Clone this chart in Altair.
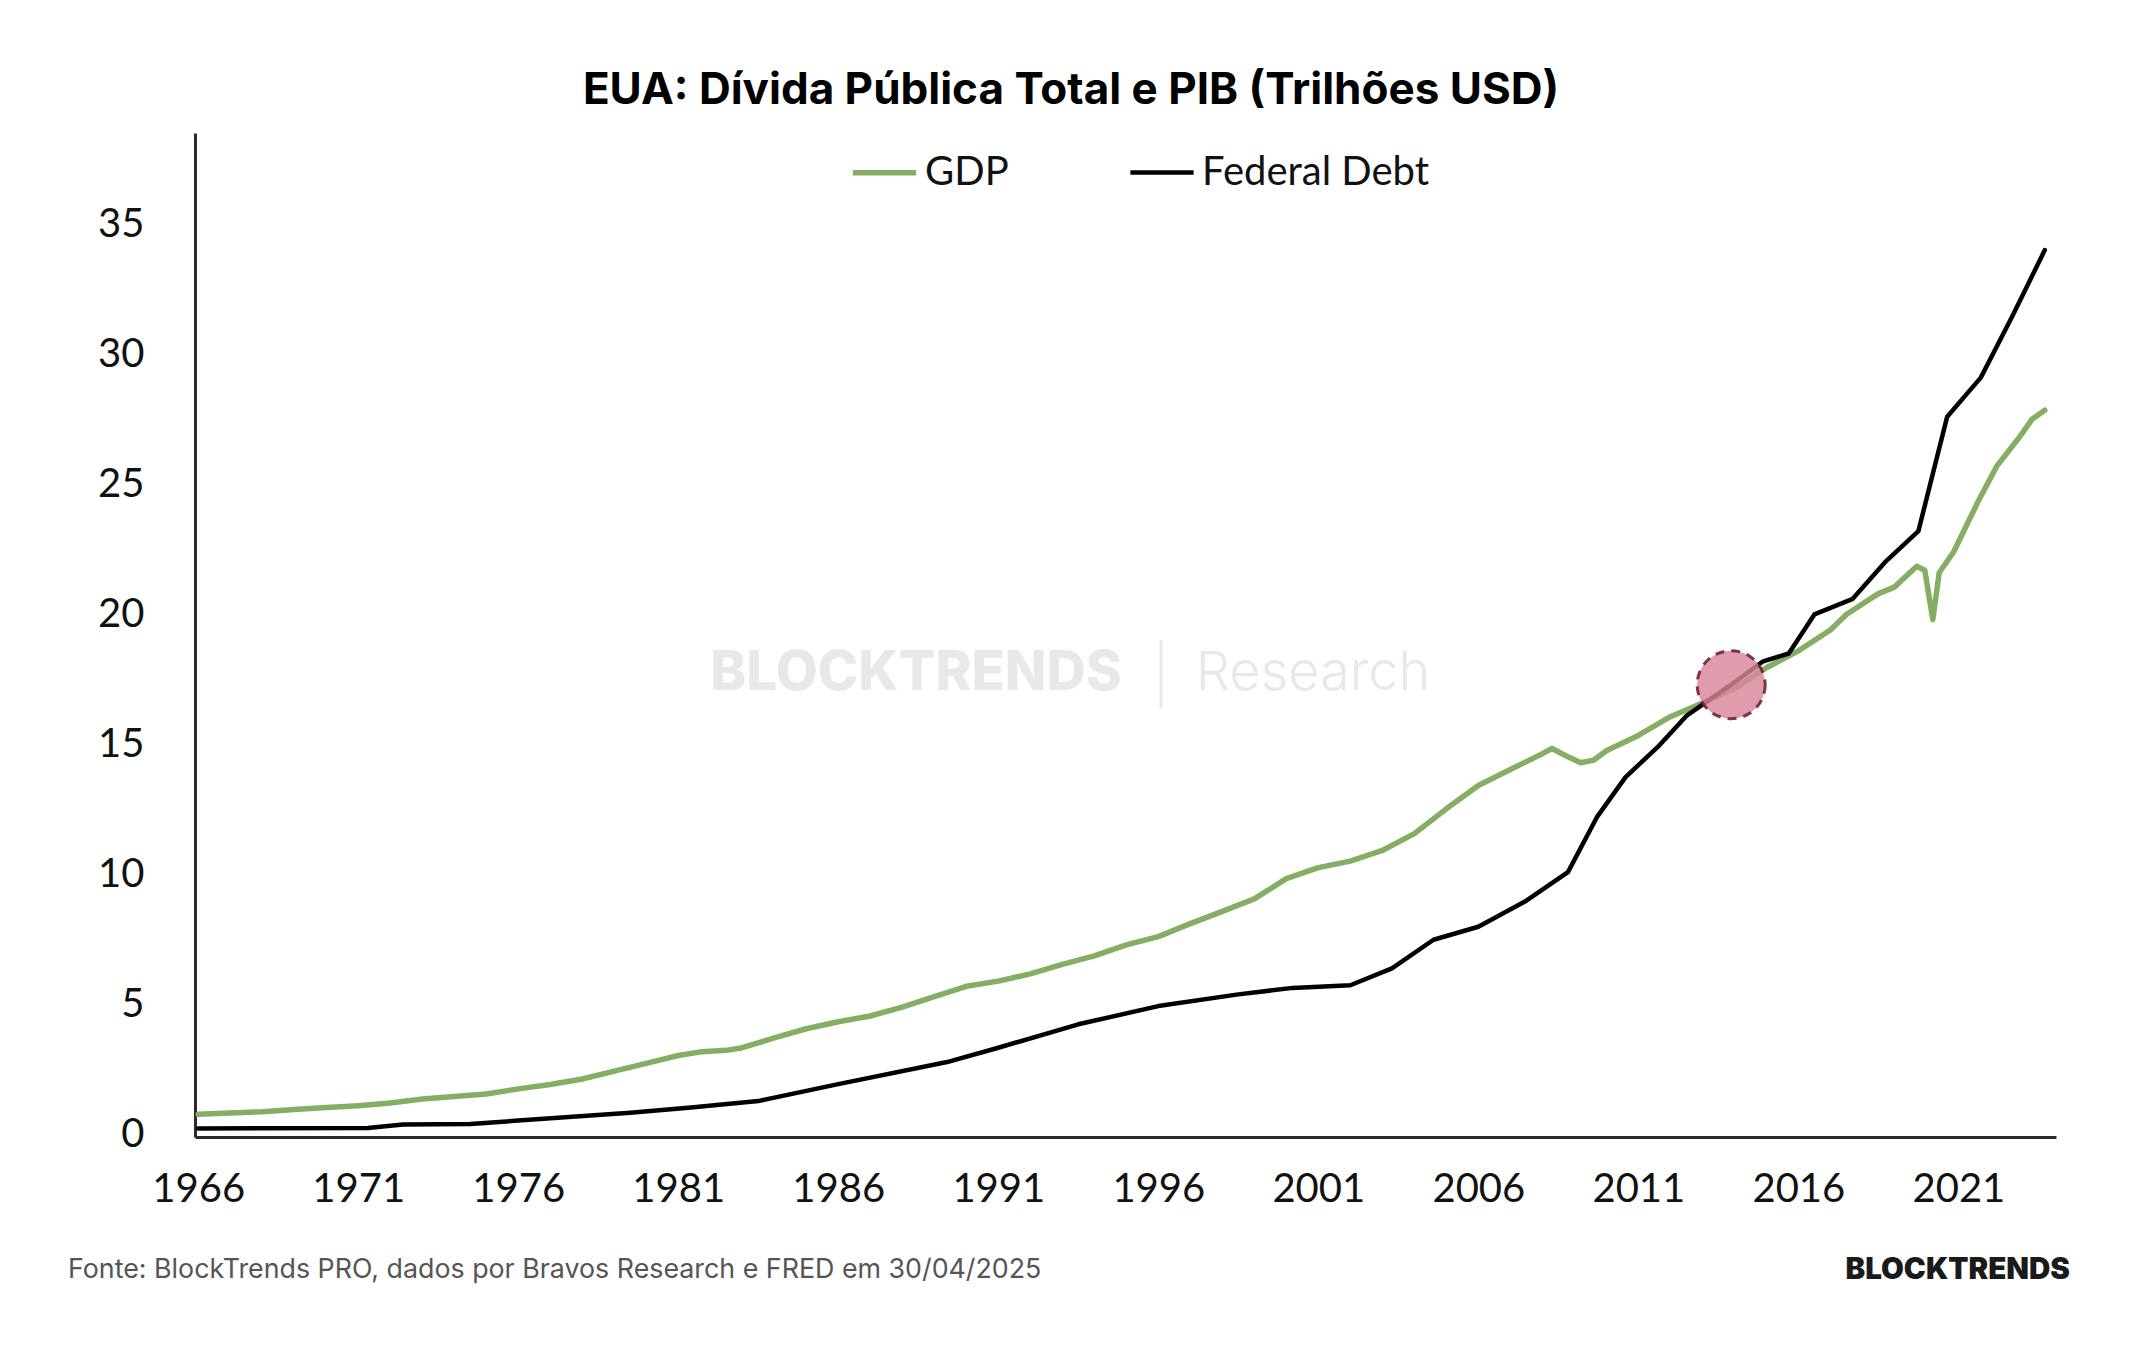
import altair as alt
import pandas as pd

# ---------------- data ----------------
gdp_years = [1966, 1967, 1968, 1969, 1970, 1971, 1972, 1973, 1974, 1975, 1976, 1977,
             1978, 1979, 1980, 1981, 1981.75, 1982.5, 1983, 1984, 1985, 1986, 1987,
             1988, 1989, 1990, 1991, 1992, 1993, 1994, 1995, 1996, 1997, 1998, 1999,
             2000, 2001, 2002, 2003, 2004, 2005, 2006, 2007, 2008, 2008.3, 2008.75,
             2009.2, 2009.6, 2010, 2011, 2012, 2013, 2014, 2015, 2016, 2017, 2017.5,
             2018, 2018.5, 2019, 2019.7, 2019.95, 2020.2, 2020.4, 2020.85, 2021.6,
             2022.2, 2022.9, 2023.3, 2023.7]
gdp_values = [0.79, 0.84, 0.89, 0.98, 1.05, 1.12, 1.23, 1.38, 1.48, 1.57, 1.77, 1.94,
              2.15, 2.45, 2.75, 3.05, 3.20, 3.25, 3.35, 3.73, 4.08, 4.35, 4.57,
              4.91, 5.31, 5.71, 5.91, 6.19, 6.55, 6.88, 7.30, 7.62, 8.12, 8.59, 9.07,
              9.85, 10.27, 10.52, 10.93, 11.58, 12.53, 13.43, 14.04, 14.65, 14.85, 14.56,
              14.30, 14.40, 14.76, 15.35, 16.07, 16.60, 17.15, 17.95, 18.60, 19.40, 20.00,
              20.40, 20.80, 21.05, 21.85, 21.70, 19.80, 21.60, 22.40, 24.30,
              25.70, 26.80, 27.50, 27.85]

debt_years = [1966, 1971.3, 1972.4, 1974.5, 1976, 1979.5, 1981.4, 1983.5, 1986, 1989.4,
              1991, 1993.5, 1996, 1998.5, 2000.2, 2002, 2003.3, 2004.6, 2006, 2007.5,
              2008.8, 2009.7, 2010.6, 2011.6, 2012.5, 2013.9, 2014.9, 2015.7, 2016.5,
              2017.7, 2018.7, 2019.75, 2020.65, 2021.7, 2022.7, 2023.7]
debt_values = [0.25, 0.27, 0.40, 0.42, 0.55, 0.85, 1.05, 1.30, 1.95, 2.80,
               3.35, 4.25, 4.95, 5.40, 5.65, 5.75, 6.40, 7.50, 8.00, 9.00,
               10.10, 12.20, 13.75, 14.90, 16.10, 17.30, 18.20, 18.50, 20.00,
               20.60, 22.00, 23.20, 27.60, 29.10, 31.50, 34.00]

series_names = ["GDP", "Federal Debt"]
series_colors = ["#84ae64", "#000000"]
x_ticks = [1966, 1971, 1976, 1981, 1986, 1991, 1996, 2001, 2006, 2011, 2016, 2021]
y_ticks = [0, 5, 10, 15, 20, 25, 30, 35]

highlight_year = [2013.9]
highlight_value = [17.3]

title_text = "EUA: Dívida Pública Total e PIB (Trilhões USD)"
source_text = "Fonte: BlockTrends PRO, dados por Bravos Research e FRED em 30/04/2025"
brand_text = "BLOCKTRENDS"

# ---------------- build tables ----------------
df = pd.concat([
    pd.DataFrame({"series": "GDP", "year": gdp_years, "value": gdp_values}),
    pd.DataFrame({"series": "Federal Debt", "year": debt_years, "value": debt_values}),
], ignore_index=True)
df_hl = pd.DataFrame({"year": highlight_year, "value": highlight_value})
one = pd.DataFrame({"a": [0]})

W, H = 1861, 1004
PAD_L, PAD_T = 195, 133

x_enc = alt.X("year:Q",
              scale=alt.Scale(domain=[1965.9, 2024.05], nice=False, zero=False),
              axis=alt.Axis(values=x_ticks, format="d", title=None, ticks=False,
                            grid=False, labelPadding=32, labelFlush=False,
                            domainColor="#2a2a2a", domainWidth=3,
                            labelFont="Lato", labelFontSize=40, labelColor="#111111"))
y_enc = alt.Y("value:Q",
              scale=alt.Scale(domain=[-0.08, 38.5], nice=False, zero=False),
              axis=alt.Axis(values=y_ticks, title=None, ticks=False, grid=False,
                            labelPadding=51, domainColor="#2a2a2a", domainWidth=3,
                            labelFont="Lato", labelFontSize=40, labelColor="#111111"))

# watermark
wm1 = alt.Chart(one).mark_text(text="BLOCKTRENDS", font="Inter", fontWeight=800,
                               fontSize=54.5, color="#e8e8e8", align="center",
                               baseline="middle").encode(
    x=alt.value(916 - PAD_L), y=alt.value(674 - PAD_T))
wm2 = alt.Chart(one).mark_text(text="Research", font="Inter", fontWeight=300,
                               fontSize=54, color="#e8e8e8", align="center",
                               baseline="middle").encode(
    x=alt.value(1313 - PAD_L), y=alt.value(674 - PAD_T))
wm_bar = alt.Chart(one).mark_rule(color="#e8e8e8", strokeWidth=3).encode(
    x=alt.value(1161 - PAD_L), y=alt.value(640 - PAD_T), y2=alt.value(708 - PAD_T))

lines = alt.Chart(df).mark_line(strokeJoin="round", strokeCap="round").encode(
    x=x_enc, y=y_enc,
    color=alt.Color("series:N",
                    scale=alt.Scale(domain=series_names, range=series_colors),
                    sort=series_names,
                    legend=alt.Legend(title=None, orient="none", direction="horizontal",
                                      legendX=850 - PAD_L, legendY=138 - PAD_T,
                                      symbolType="stroke", symbolSize=4000,
                                      symbolStrokeWidth=5.5, labelFont="Lato",
                                      labelFontSize=40, labelColor="#111111",
                                      labelOffset=6, columnPadding=112,
                                      labelLimit=600)),
    strokeWidth=alt.StrokeWidth("series:N",
                                scale=alt.Scale(domain=series_names, range=[5.5, 4.5]),
                                legend=None),
    detail="series:N",
)

circle = alt.Chart(df_hl).mark_point(shape="circle", size=4624, filled=True,
                                     fill="#d9869a", fillOpacity=0.82,
                                     stroke="#6e2434", strokeWidth=3,
                                     strokeDash=[9, 7], strokeOpacity=0.9).encode(
    x=alt.X("year:Q"), y=alt.Y("value:Q"))

title = alt.Chart(one).mark_text(text=title_text, font="Inter", fontWeight=700,
                                 fontSize=44, color="#000000", align="center",
                                 baseline="alphabetic").encode(
    x=alt.value(1071 - PAD_L), y=alt.value(104 - PAD_T))
source = alt.Chart(one).mark_text(text=source_text, font="Inter", fontSize=26.8,
                                  color="#555555", align="left",
                                  baseline="middle").encode(
    x=alt.value(68 - PAD_L), y=alt.value(1270 - PAD_T))
brand = alt.Chart(one).mark_text(text=brand_text, font="Inter", fontWeight=900,
                                 fontSize=29.5, color="#1a1a1a", align="right",
                                 baseline="middle").encode(
    x=alt.value(2070 - PAD_L), y=alt.value(1270 - PAD_T))

chart = alt.layer(wm1, wm2, wm_bar, lines, circle, title, source, brand).properties(
    width=W, height=H,
    autosize=alt.AutoSizeParams(type="none"),
    padding={"left": PAD_L, "top": PAD_T, "right": 2144 - PAD_L - W,
             "bottom": 1350 - PAD_T - H},
    background="white",
).configure_view(stroke=None)

chart.save("out.html", embed_options={"renderer": "svg", "actions": False})
